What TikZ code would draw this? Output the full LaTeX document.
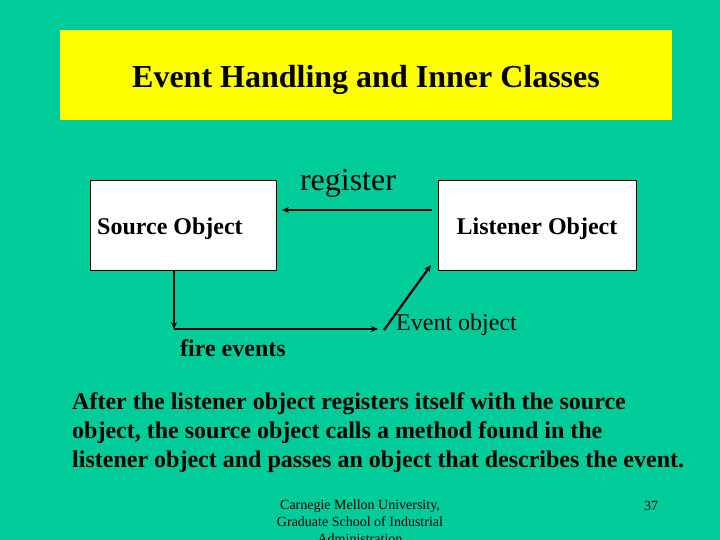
\documentclass[tikz,border=0pt]{standalone}
\usepackage{fontspec}
\setmainfont{Liberation Serif}
\usetikzlibrary{arrows.meta}
\definecolor{bg}{RGB}{0,204,153}
\definecolor{ttl}{RGB}{255,255,0}
\tikzset{
  box/.style={draw=black, fill=white, line width=0.8pt, anchor=north west, inner sep=0pt},
  conn/.style={line width=2.2pt, -{Stealth[length=7pt,width=6pt]}},
  lbl/.style={inner sep=0pt, text=black},
}
\begin{document}
\begin{tikzpicture}[x=1pt,y=-1pt]
\fill[bg] (0,0) rectangle (720,540);
\useasboundingbox (0,0) rectangle (720,540);
\fill[ttl] (60,30) rectangle (672,120);
\node[lbl, font=\fontsize{32}{36}\selectfont\bfseries] (title) at (366,80) {Event Handling and Inner Classes};
\node[box, minimum width=186pt, minimum height=90pt] (src) at (90,180) {};
\node[box, minimum width=198pt, minimum height=90pt] (lst) at (438,180) {};
\node[lbl, anchor=west, font=\fontsize{24}{28}\selectfont\bfseries] (srct) at (97,229) {Source Object};
\node[lbl, font=\fontsize{24}{28}\selectfont\bfseries] (lstt) at (537,229) {Listener Object};
\node[lbl, font=\fontsize{32}{36}\selectfont] (reg) at (348,183) {register};
\coordinate (r1) at (432,210);
\coordinate (r2) at (282,210);
\draw[conn] (r1) -- (r2);
\coordinate (f0) at (174,270);
\coordinate (f1) at (174,329);
\coordinate (f2) at (378,329);
\draw[conn] (f0) -- (f1);
\draw[conn] (f1) -- (f2);
\coordinate (e1) at (384,330);
\coordinate (e2) at (431,265);
\draw[conn] (e1) -- (e2);
\node[lbl, anchor=west, font=\fontsize{24}{28}\selectfont] (evt) at (396,325) {Event object};
\node[lbl, anchor=west, font=\fontsize{24}{28}\selectfont\bfseries] (fire) at (180,348) {fire events};
\node[lbl, anchor=north west, align=left, font=\fontsize{24}{29}\selectfont\bfseries] (para) at (72,392) {After the listener object registers itself with the source\\object, the source object calls a method found in the\\listener object and passes an object that describes the event.};
\node[lbl, anchor=north, align=center, font=\fontsize{14}{17}\selectfont] (foot) at (360,500) {Carnegie Mellon University,\\Graduate School of Industrial\\Administration};
\node[lbl, font=\fontsize{14}{17}\selectfont] (pg) at (651,506) {37};
\end{tikzpicture}
\end{document}
